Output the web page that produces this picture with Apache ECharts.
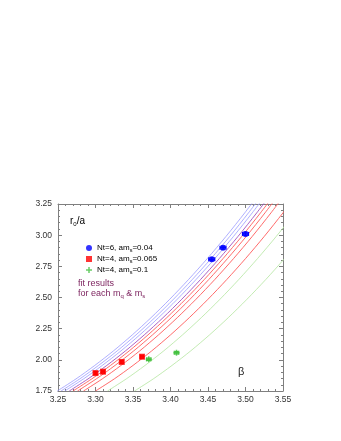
<!DOCTYPE html>
<html><head><meta charset="utf-8">
<script src="https://cdn.jsdelivr.net/npm/echarts@6/dist/echarts.min.js"></script>
<style>html,body{margin:0;padding:0;background:#fff}#c{width:341px;height:441px}</style>
</head><body><div id="c"></div>
<script>
// tick labels
const xTickLabels = ['3.25','3.30','3.35','3.40','3.45','3.50','3.55'];
const yTickLabels = ['1.75','2.00','2.25','2.50','2.75','3.00','3.25'];

// data points (beta, r0/a, errors)
const blueName = 'Nt=6, am_s=0.04';
const blueBeta = [3.455, 3.470, 3.500];
const blueR    = [2.806, 2.900, 3.010];
const blueBErr = [0.004, 0.004, 0.004];
const blueRErr = [0.012, 0.012, 0.014];

const redName = 'Nt=4, am_s=0.065';
const redBeta = [3.300, 3.310, 3.335, 3.362];
const redR    = [1.894, 1.905, 1.983, 2.025];
const redBErr = [0.002, 0.002, 0.002, 0.002];
const redRErr = [0.012, 0.012, 0.012, 0.012];

const greenName = 'Nt=4, am_s=0.1';
const greenBeta = [3.371, 3.408];
const greenR    = [2.004, 2.057];
const greenBErr = [0.003, 0.003];
const greenRErr = [0.010, 0.010];

// fit curves: r0/a levels and the beta where each curve reaches them
const fitR = [1.750, 1.847, 1.955, 2.072, 2.200, 2.338, 2.486, 2.644, 2.812, 2.990, 3.179, 3.378];
const fitBlue1  = [3.249, 3.274, 3.299, 3.324, 3.349, 3.374, 3.399, 3.424, 3.449, 3.474, 3.499, 3.524];
const fitBlue2  = [3.254, 3.279, 3.304, 3.329, 3.354, 3.379, 3.404, 3.429, 3.454, 3.479, 3.504, 3.529];
const fitBlue3  = [3.259, 3.284, 3.309, 3.334, 3.359, 3.384, 3.409, 3.434, 3.459, 3.484, 3.509, 3.534];
const fitPurple = [3.265, 3.290, 3.315, 3.340, 3.365, 3.390, 3.415, 3.440, 3.465, 3.490, 3.515, 3.540];
const fitRed1   = [3.270, 3.295, 3.320, 3.345, 3.370, 3.395, 3.420, 3.445, 3.470, 3.495, 3.520, 3.545];
const fitRed2   = [3.276, 3.301, 3.326, 3.351, 3.376, 3.401, 3.426, 3.451, 3.476, 3.501, 3.526, 3.551];
const fitRed3   = [3.284, 3.309, 3.334, 3.359, 3.384, 3.409, 3.434, 3.459, 3.484, 3.509, 3.534, 3.559];
const fitRed4   = [3.300, 3.325, 3.350, 3.375, 3.400, 3.425, 3.450, 3.475, 3.500, 3.525, 3.550, 3.575];
const fitGreen1 = [3.316, 3.341, 3.366, 3.391, 3.416, 3.441, 3.466, 3.491, 3.516, 3.541, 3.566, 3.591];
const fitGreen2 = [3.352, 3.377, 3.402, 3.427, 3.452, 3.477, 3.502, 3.527, 3.552, 3.577, 3.602, 3.627];

const FONT = 'Liberation Sans, Arial, Helvetica, sans-serif';
const chart = echarts.init(document.getElementById('c'), null, {renderer: 'canvas'});

function pairs(xs, ys) { return xs.map((x, i) => [x, ys[i]]); }
function fitLine(xs, color, w) {
  return { type: 'line', data: pairs(xs, fitR), showSymbol: false, smooth: 0.3, clip: true,
    silent: true, z: 1, lineStyle: { color: color, width: w }, emphasis: { disabled: true } };
}
function errData(b, r, eb, er) { return b.map((x, i) => [x, r[i], eb[i], er[i]]); }
function errSeries(data, color) {
  return { type: 'custom', data: data, z: 3, silent: true, clip: true,
    renderItem: function (params, api) {
      const x = api.value(0), y = api.value(1), ex = api.value(2), ey = api.value(3);
      const h0 = api.coord([x - ex, y]), h1 = api.coord([x + ex, y]);
      const v0 = api.coord([x, y - ey]), v1 = api.coord([x, y + ey]);
      const st = { stroke: color, lineWidth: 1.2 };
      const c = 2;
      return { type: 'group', children: [
        { type: 'line', shape: { x1: h0[0], y1: h0[1], x2: h1[0], y2: h1[1] }, style: st },
        { type: 'line', shape: { x1: v0[0], y1: v0[1], x2: v1[0], y2: v1[1] }, style: st },
        { type: 'line', shape: { x1: h0[0], y1: h0[1] - c, x2: h0[0], y2: h0[1] + c }, style: st },
        { type: 'line', shape: { x1: h1[0], y1: h1[1] - c, x2: h1[0], y2: h1[1] + c }, style: st },
        { type: 'line', shape: { x1: v0[0] - c, y1: v0[1], x2: v0[0] + c, y2: v0[1] }, style: st },
        { type: 'line', shape: { x1: v1[0] - c, y1: v1[1], x2: v1[0] + c, y2: v1[1] }, style: st }
      ]};
    } };
}

const axisCommon = {
  type: 'value', splitLine: { show: false },
  axisLine: { show: true, onZero: false, lineStyle: { color: '#7f7f7f', width: 1 } },
  axisTick: { show: true, inside: true, length: 4, lineStyle: { color: '#7f7f7f' } },
  minorTick: { show: true, splitNumber: 5, length: 2, lineStyle: { color: '#7f7f7f' } }
};
const xLabel = { fontSize: 8.5, color: '#333', fontFamily: FONT, margin: 4,
  formatter: v => xTickLabels.find(t => Math.abs(parseFloat(t) - v) < 1e-6) || '' };
const yLabel = { fontSize: 8.5, color: '#333', fontFamily: FONT, margin: 6,
  formatter: v => yTickLabels.find(t => Math.abs(parseFloat(t) - v) < 1e-6) || '' };

const option = {
  backgroundColor: '#fff',
  animation: false,
  grid: { left: 58, right: 58, top: 204, bottom: 50, containLabel: false },
  xAxis: [
    Object.assign({}, axisCommon, { position: 'bottom', min: 3.25, max: 3.55, interval: 0.05, axisLabel: xLabel }),
    Object.assign({}, axisCommon, { position: 'top', min: 3.25, max: 3.55, interval: 0.05, axisLabel: { show: false } })
  ],
  yAxis: [
    Object.assign({}, axisCommon, { position: 'left', min: 1.75, max: 3.25, interval: 0.25, axisLabel: yLabel }),
    Object.assign({}, axisCommon, { position: 'right', min: 1.75, max: 3.25, interval: 0.25, axisLabel: { show: false } })
  ],
  legend: {
    data: [blueName, redName, greenName],
    orient: 'vertical', left: 81, top: 238, itemWidth: 6, itemHeight: 6, itemGap: 1,
    selectedMode: false,
    textStyle: { fontSize: 8, color: '#000', fontFamily: FONT, lineHeight: 10,
      rich: { s: { fontSize: 5.5, padding: [4, 0, 0, 0], lineHeight: 6, color: '#000', fontFamily: FONT } } },
    formatter: name => name.replace('_s', '{s|s}')
  },
  graphic: [
    { type: 'text', left: 70, top: 216, silent: true,
      style: { text: 'r{s|0}/a', fill: '#000', font: '10px ' + FONT,
        rich: { s: { fontSize: 6, padding: [5, 0, 0, 0], lineHeight: 7, fill: '#000' } } } },
    { type: 'text', left: 78, top: 279, silent: true,
      style: { text: 'fit results', fill: '#7a1f5c', font: '9px ' + FONT } },
    { type: 'text', left: 78, top: 289, silent: true,
      style: { text: 'for each m{s|q} & m{s|s}', fill: '#7a1f5c', font: '9px ' + FONT,
        rich: { s: { fontSize: 6, padding: [4, 0, 0, 0], lineHeight: 6, fill: '#7a1f5c' } } } },
    { type: 'text', left: 238, top: 366, silent: true,
      style: { text: 'β', fill: '#222', font: '11px ' + FONT } }
  ],
  series: [
    fitLine(fitBlue1, '#9a9aff', 0.8),
    fitLine(fitBlue2, '#9a9aff', 0.8),
    fitLine(fitBlue3, '#9a9aff', 0.8),
    fitLine(fitPurple, '#a050c0', 0.9),
    fitLine(fitRed1, '#ff5a5a', 0.9),
    fitLine(fitRed2, '#ff5a5a', 0.9),
    fitLine(fitRed3, '#ff5a5a', 0.9),
    fitLine(fitRed4, '#ff5a5a', 0.9),
    fitLine(fitGreen1, '#b4e6a0', 0.8),
    fitLine(fitGreen2, '#b4e6a0', 0.8),
    errSeries(errData(blueBeta, blueR, blueBErr, blueRErr), '#0000ff'),
    errSeries(errData(redBeta, redR, redBErr, redRErr), '#ff0000'),
    errSeries(errData(greenBeta, greenR, greenBErr, greenRErr), '#44c040'),
    { name: blueName, type: 'scatter', data: pairs(blueBeta, blueR), symbol: 'circle', symbolSize: 6,
      itemStyle: { color: '#0000ff' }, z: 4 },
    { name: redName, type: 'scatter', data: pairs(redBeta, redR), symbol: 'rect', symbolSize: 6,
      itemStyle: { color: '#ff0000' }, z: 4 },
    { name: greenName, type: 'scatter', data: pairs(greenBeta, greenR),
      symbol: 'path://M3,0 L5,0 L5,3 L8,3 L8,5 L5,5 L5,8 L3,8 L3,5 L0,5 L0,3 L3,3 Z', symbolSize: 6,
      itemStyle: { color: '#44c040' }, z: 4 }
  ]
};
chart.setOption(option);
</script>
</body></html>
